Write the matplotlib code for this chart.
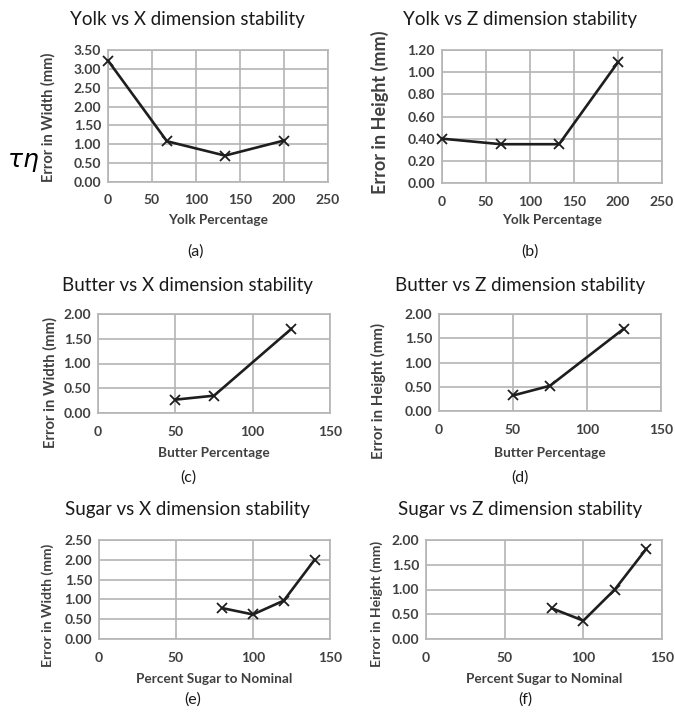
import matplotlib
import numpy as np

matplotlib.use("Agg")
import matplotlib.pyplot as plt

plt.rcParams["font.family"] = ["Lato", "DejaVu Sans"]

W, H = 675, 719

# data
yolk_pct = [0, 67, 133, 200]
yolk_x_err = [3.22, 1.08, 0.70, 1.10]
yolk_z_err = [0.40, 0.35, 0.35, 1.09]

butter_pct = [50, 75, 125]
butter_x_err = [0.27, 0.35, 1.70]
butter_z_err = [0.32, 0.52, 1.70]

sugar_pct = [80, 100, 120, 140]
sugar_x_err = [0.78, 0.62, 0.97, 2.00]
sugar_z_err = [0.62, 0.37, 1.00, 1.82]

yolk_xticks = [0, 50, 100, 150, 200, 250]
small_xticks = [0, 50, 100, 150]

panels = [
    # (x, y, title, xlabel, ylabel, xticks, ymax, ystep, tag, box(l, r, t, b))
    (yolk_pct, yolk_x_err, "Yolk vs X dimension stability", "Yolk Percentage",
     "Error in Width (mm)", yolk_xticks, 3.5, 0.5, "(a)", (108, 328, 50, 182)),
    (yolk_pct, yolk_z_err, "Yolk vs Z dimension stability", "Yolk Percentage",
     "Error in Height (mm)", yolk_xticks, 1.2, 0.2, "(b)", (442, 662, 50, 183)),
    (butter_pct, butter_x_err, "Butter vs X dimension stability", "Butter Percentage",
     "Error in Width (mm)", small_xticks, 2.0, 0.5, "(c)", (98, 330, 314, 413)),
    (butter_pct, butter_z_err, "Butter vs Z dimension stability", "Butter Percentage",
     "Error in Height (mm)", small_xticks, 2.0, 0.5, "(d)", (439, 661, 314, 411)),
    (sugar_pct, sugar_x_err, "Sugar vs X dimension stability", "Percent Sugar to Nominal",
     "Error in Width (mm)", small_xticks, 2.5, 0.5, "(e)", (99, 330, 540, 639)),
    (sugar_pct, sugar_z_err, "Sugar vs Z dimension stability", "Percent Sugar to Nominal",
     "Error in Height (mm)", small_xticks, 2.0, 0.5, "(f)", (426, 662, 540, 639)),
]

title_pos = [(187, 20), (520, 20), (187, 285), (520, 285), (187, 510), (520, 510)]
xlabel_y = [220, 220, 453, 453, 679, 679]
tag_pos = [(196, 252), (530, 252), (188, 478), (520, 478), (193, 700), (525, 700)]
ylabel_pos = [(48, 117), (380, 112), (50, 383), (378, 391), (48, 605), (377, 604)]
ylabel_size = [10.5, 13, 10.6, 10.8, 10, 10]

fig = plt.figure(figsize=(W / 100, H / 100), dpi=100)
fig.patch.set_facecolor("white")

grid_color = "#b4b4b4"
text_color = "#404040"

for i, (xs, ys, title, xlabel, ylabel, xticks, ymax, ystep, tag, box) in enumerate(panels):
    l, r, t, b = box
    ax = fig.add_axes([l / W, 1 - b / H, (r - l) / W, (b - t) / H])
    ax.plot(xs, ys, color="#1e1e1e", linewidth=1.9, marker="x",
            markersize=7, markeredgewidth=1.3, zorder=3, clip_on=False)
    ax.set_xlim(xticks[0], xticks[-1])
    ax.set_ylim(0, ymax)
    ax.set_xticks(xticks)
    yt = np.arange(0, ymax + 1e-9, ystep)
    ax.set_yticks(yt)
    ax.set_yticklabels([f"{v:.2f}" for v in yt])
    ax.grid(True, color=grid_color, linewidth=1.2)
    ax.set_axisbelow(True)
    for sp in ax.spines.values():
        sp.set_color(grid_color)
        sp.set_linewidth(1.2)
    ax.tick_params(length=0, labelsize=10, labelcolor=text_color)
    ax.tick_params(axis="x", pad=9)
    ax.tick_params(axis="y", pad=5)
    for lab in ax.get_xticklabels() + ax.get_yticklabels():
        lab.set_fontweight("bold")

    cx = (l + r) / 2 / W
    fig.text(title_pos[i][0] / W, 1 - title_pos[i][1] / H, title, ha="center", va="center",
             fontsize=13.5, color="#1a1a1a")
    fig.text(cx, 1 - xlabel_y[i] / H, xlabel, ha="center", va="center",
             fontsize=9.8, fontweight="bold", color=text_color)
    fig.text(ylabel_pos[i][0] / W, 1 - ylabel_pos[i][1] / H, ylabel, ha="center",
             va="center", rotation=90, fontsize=ylabel_size[i], fontweight="bold",
             color=text_color)
    fig.text(tag_pos[i][0] / W, 1 - tag_pos[i][1] / H, tag, ha="center", va="center",
             fontsize=11.5, color="#1a1a1a")

fig.text(23 / W, 1 - 163 / H, r"$\tau\eta$", ha="center", va="center", fontsize=18)

fig.savefig("out.png", dpi=100)
